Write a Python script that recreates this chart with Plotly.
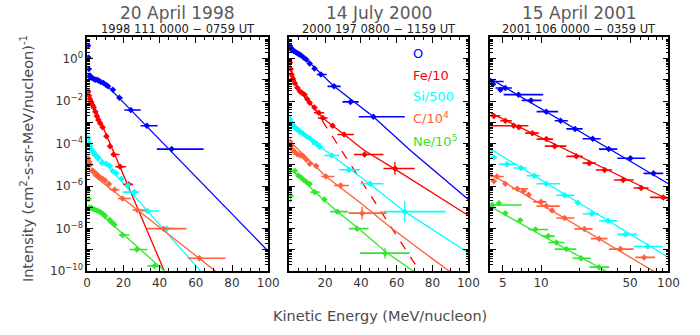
import plotly.graph_objects as go

# ---------------- colours ----------------
C_O, C_FE, C_SI, C_C, C_NE = "#0000ff", "#ff0000", "#00ffff", "#ff5f3a", "#2ee82e"

# ================= Panel 1 : 20 April 1998 =================
p1_O_E = [0.5, 0.7, 0.9, 1.2, 1.5, 2.5, 3.5, 4.5, 5.5, 6.5, 7.5, 9, 10.5, 11.5, 14.2, 17.8, 24.1, 33, 46.7]
p1_O_logI = [0.6, 0.05, -0.5, -0.85, -0.8, -0.9, -0.95, -1.0, -1.0, -1.05, -1.1, -1.15, -1.25, -1.31, -1.47, -1.85, -2.42, -3.16, -4.26]
p1_O_lo = [0.5, 0.7, 0.9, 1.2, 1.5, 2.5, 3.5, 4.5, 5.5, 6.5, 7.5, 9, 10.5, 11.5, 14.2, 16.5, 20.5, 29.5, 38.5]
p1_O_hi = [0.5, 0.7, 0.9, 1.2, 1.5, 2.5, 3.5, 4.5, 5.5, 6.5, 7.5, 9, 10.5, 11.5, 14.2, 19.5, 29.6, 38.9, 64.3]
p1_O_lineE = [9, 100]
p1_O_lineI = [-1.10, -9.06]

p1_Fe_E = [0.6, 1.0, 1.5, 2.2, 3.0, 3.6, 4.5, 5.3, 6.2, 7.2, 8.5, 10.6, 12.6, 14.6, 18.2, 22.9]
p1_Fe_logI = [-1.55, -1.75, -1.9, -2.05, -2.2, -2.3, -2.5, -2.7, -2.89, -3.05, -3.23, -3.66, -4.12, -4.51, -5.09, -5.92]
p1_Fe_lo = [0.6, 1.0, 1.5, 2.2, 3.0, 3.6, 4.5, 5.3, 6.2, 7.2, 8.5, 10.6, 11.5, 13.4, 15.5, 20.0]
p1_Fe_hi = [0.6, 1.0, 1.5, 2.2, 3.0, 3.6, 4.5, 5.3, 6.2, 7.2, 8.5, 10.6, 13.8, 17.9, 21.5, 25.3]
p1_Fe_lineE = [0.5, 44]
p1_Fe_lineI = [-1.57, -10.27]

p1_Si_E = [0.5, 1.0, 1.6, 2.4, 3.4, 4.5, 6, 8.1, 10.6, 12.5, 14.2, 16, 18.9, 22.5, 26, 33.3, 44]
p1_Si_logI = [-3.75, -3.97, -4.1, -4.3, -4.45, -4.55, -4.7, -4.9, -4.95, -5.05, -5.3, -5.4, -5.65, -5.97, -6.28, -7.17, -8.0]
p1_Si_lo = [0.5, 1.0, 1.6, 2.4, 3.4, 4.5, 6, 8.1, 10.6, 12.5, 14.2, 16, 17.5, 21.0, 19.6, 27.0, 39.5]
p1_Si_hi = [0.5, 1.0, 1.6, 2.4, 3.4, 4.5, 6, 8.1, 10.6, 12.5, 14.2, 16, 20.0, 24.0, 28.6, 39.6, 48.0]
p1_Si_lineE = [0.5, 64]
p1_Si_lineI = [-4.0, -10.13]

p1_C_E = [0.5, 0.6, 1.0, 1.6, 2.7, 3.5, 4.5, 5.5, 7, 8.5, 9.9, 12, 15.1, 19.6, 27.7, 42.2, 62]
p1_C_logI = [-4.7, -5.0, -4.85, -5.0, -5.28, -5.3, -5.4, -5.45, -5.58, -5.65, -5.74, -5.9, -6.17, -6.58, -7.12, -8.0, -9.39]
p1_C_lo = [0.5, 0.6, 1.0, 1.6, 2.7, 3.5, 4.5, 5.5, 7, 8.5, 9.9, 12, 12.4, 16.9, 25.0, 33.0, 55.7]
p1_C_hi = [0.5, 0.6, 1.0, 1.6, 2.7, 3.5, 4.5, 5.5, 7, 8.5, 9.9, 12, 17.8, 24.1, 32.3, 54.8, 76.4]
p1_C_lineE = [3, 72]
p1_C_lineI = [-5.47, -10.07]

p1_Ne_E = [0.6, 0.8, 1.2, 2.5, 4, 5.5, 7, 8.5, 9.9, 12.4, 13.5, 15.1, 19.6, 27.4, 37.2]
p1_Ne_logI = [-6.2, -6.6, -7.0, -7.05, -7.1, -7.15, -7.2, -7.3, -7.4, -7.58, -7.7, -7.81, -8.3, -8.98, -9.75]
p1_Ne_lo = [0.6, 0.8, 1.2, 2.5, 4, 5.5, 7, 8.5, 9.9, 12.4, 11.5, 15.1, 17.5, 23.4, 33.3]
p1_Ne_hi = [0.6, 0.8, 1.2, 2.5, 4, 5.5, 7, 8.5, 9.9, 12.4, 15.5, 15.1, 23.2, 33.3, 41.0]
p1_Ne_lineE = [2, 43]
p1_Ne_lineI = [-6.9, -10.01]

# ================= Panel 2 : 14 July 2000 =================
p2_O_E = [0.4, 0.8, 1.5, 2.5, 3.5, 4.5, 5.5, 6.5, 8, 9.5, 11.4, 14.1, 17.7, 25, 34.2, 47]
p2_O_logI = [0.6, 0.5, 0.4, 0.35, 0.3, 0.25, 0.2, 0.15, 0.05, -0.05, -0.24, -0.47, -0.75, -1.31, -2.04, -2.74]
p2_O_lo = [0.4, 0.8, 1.5, 2.5, 3.5, 4.5, 5.5, 6.5, 8, 9.5, 11.4, 14.1, 15.4, 21.4, 29.7, 38.8]
p2_O_hi = [0.4, 0.8, 1.5, 2.5, 3.5, 4.5, 5.5, 6.5, 8, 9.5, 11.4, 14.1, 20.9, 28.7, 38.8, 64.5]
p2_O_dy = [0] * 16
p2_O_lineE = [0.4, 10, 25, 47, 68, 100]
p2_O_lineI = [0.62, -0.08, -1.31, -2.74, -4.35, -6.63]

p2_Fe_E = [0.4, 0.8, 1.3, 2, 3.1, 4.5, 5.9, 7.2, 8.6, 10, 11.4, 14.1, 16.5, 18.7, 24.2, 30.6, 42.1, 59]
p2_Fe_logI = [-0.2, -0.5, -0.77, -0.95, -1.16, -1.38, -1.54, -1.62, -1.7, -1.9, -2.08, -2.31, -2.55, -2.8, -3.16, -3.57, -4.51, -5.17]
p2_Fe_lo = [0.4, 0.8, 1.3, 2, 3.1, 4.5, 5.9, 7.2, 8.6, 10, 11.4, 14.1, 13.8, 15.9, 24.2, 26.9, 36.1, 52.6]
p2_Fe_hi = [0.4, 0.8, 1.3, 2, 3.1, 4.5, 5.9, 7.2, 8.6, 10, 11.4, 14.1, 19.5, 21.4, 24.2, 36.1, 52.6, 70.0]
p2_Fe_dy = [0] * 17 + [0.3]
p2_Fe_lineE = [0.4, 5, 10, 18.7, 30.6, 41.6, 59, 80, 100]
p2_Fe_lineI = [-0.35, -1.45, -1.95, -2.8, -3.57, -4.3, -5.2, -6.3, -7.38]
p2_Fe_dashE = [13, 74]
p2_Fe_dashI = [-2.22, -10.15]

p2_Si_E = [0.4, 1, 2, 3, 4.4, 6, 7.7, 9.5, 11.5, 13.5, 15.4, 17, 23.7, 33.3, 45.2, 64.5]
p2_Si_logI = [-2.85, -3.0, -3.15, -3.25, -3.34, -3.45, -3.54, -3.65, -3.75, -3.9, -4.02, -4.15, -4.56, -5.23, -5.89, -7.2]
p2_Si_lo = [0.4, 1, 2, 3, 4.4, 6, 7.7, 9.5, 11.5, 13.5, 12.8, 17, 19.6, 27.8, 39.7, 52.6]
p2_Si_hi = [0.4, 1, 2, 3, 4.4, 6, 7.7, 9.5, 11.5, 13.5, 17.8, 17, 27.8, 39.7, 52.6, 87.4]
p2_Si_dy = [0] * 15 + [0.5]
p2_Si_lineE = [0.4, 15, 20.5, 45, 64.5, 100]
p2_Si_lineI = [-2.9, -4.0, -4.35, -5.9, -7.2, -9.13]

p2_C_E = [0.4, 1, 2, 3, 4.5, 6, 7.7, 9.5, 11.4, 15, 20.5, 28.7, 40.7]
p2_C_logI = [-3.9, -4.1, -4.3, -4.4, -4.5, -4.55, -4.6, -4.75, -4.95, -5.05, -5.55, -5.97, -7.27]
p2_C_lo = [0.4, 1, 2, 3, 4.5, 6, 7.7, 9.5, 11.4, 15, 17.8, 25.1, 33.3]
p2_C_hi = [0.4, 1, 2, 3, 4.5, 6, 7.7, 9.5, 11.4, 15, 25.1, 33.3, 54.4]
p2_C_dy = [0] * 12 + [0.3]
p2_C_lineE = [0.4, 20.5, 40, 56.6, 80, 92]
p2_C_lineI = [-3.9, -5.55, -6.81, -7.95, -9.42, -10.16]

p2_Ne_E = [0.4, 0.8, 3.1, 5, 6.5, 8, 9.5, 11.4, 14.1, 19.6, 26.9, 37.9, 53.5]
p2_Ne_logI = [-5.28, -6.45, -5.28, -5.5, -5.6, -5.7, -5.8, -5.9, -6.28, -6.63, -7.2, -8.0, -9.15]
p2_Ne_lo = [0.4, 0.8, 3.1, 5, 6.5, 8, 9.5, 11.4, 11.8, 19.6, 22.9, 33.3, 39.4]
p2_Ne_hi = [0.4, 0.8, 3.1, 5, 6.5, 8, 9.5, 11.4, 16.8, 19.6, 33.0, 44.3, 67.2]
p2_Ne_dy = [0, 0.3] + [0] * 10 + [0.25]
p2_Ne_lineE = [0.4, 5, 14, 27, 38, 54, 71]
p2_Ne_lineI = [-5.2, -5.5, -6.25, -7.2, -7.95, -9.1, -10.1]

# ================= Panel 3 : 15 April 2001 =================
p3_O_E = [4.0, 4.2, 4.8, 5.24, 6.66, 8.34, 11.0, 14.25, 18.5, 25.4, 34.0, 50.3, 76.2]
p3_O_logI = [-1.08, -1.21, -1.47, -1.39, -1.70, -1.97, -2.50, -2.93, -3.31, -3.77, -4.26, -4.69, -5.40]
p3_O_lo = [3.94, 4.2, 4.8, 4.39, 5.09, 7.06, 9.23, 12.8, 15.8, 21.2, 28.5, 39.7, 63.7]
p3_O_hi = [5.09, 4.2, 4.8, 5.90, 10.4, 10.1, 13.6, 16.2, 21.2, 29.4, 39.7, 65.7, 91.0]
p3_O_lineE = [3.94, 100]
p3_O_lineI = [-0.93, -5.89]

p3_Fe_E = [4.26, 5.24, 6.1, 6.7, 8.55, 11.0, 12.8, 18.9, 23.9, 31.6, 44.1, 61.2, 91]
p3_Fe_logI = [-2.70, -2.93, -3.16, -3.23, -3.51, -3.79, -4.12, -4.60, -4.92, -5.24, -5.71, -6.09, -6.53]
p3_Fe_lo = [4.01, 4.78, 4.01, 6.7, 7.5, 9.23, 10.7, 15.8, 21.2, 26.9, 37.3, 53.3, 71.8]
p3_Fe_hi = [4.78, 5.90, 7.95, 6.7, 9.6, 12.4, 15.8, 21.2, 26.9, 36.2, 53.3, 69.8, 96.8]
p3_Fe_lineE = [3.94, 100]
p3_Fe_lineI = [-2.54, -6.63]

p3_Si_E = [4.0, 4.26, 5.4, 6.96, 8.86, 11.0, 15.3, 19.4, 25.0, 33.5, 46.1, 68.6]
p3_Si_logI = [-4.4, -4.66, -4.97, -5.15, -5.51, -5.89, -6.43, -6.78, -7.30, -7.63, -8.27, -8.84]
p3_Si_lo = [4.0, 3.94, 4.66, 6.09, 7.72, 9.23, 13.2, 19.4, 21.2, 28.5, 39.7, 53.3]
p3_Si_hi = [4.0, 4.52, 6.27, 7.72, 9.79, 14.0, 18.3, 19.4, 28.5, 39.7, 56.6, 90.0]
p3_Si_lineE = [3.94, 100]
p3_Si_lineI = [-4.23, -9.35]

p3_C_E = [4.5, 4.26, 5.24, 6.5, 7.3, 8.0, 10.0, 11.0, 12.2, 15.3, 21.9, 28.5, 42.0, 64.4]
p3_C_logI = [-5.55, -5.77, -5.89, -6.12, -6.23, -6.40, -6.74, -6.94, -7.15, -7.50, -8.01, -8.47, -8.96, -9.35]
p3_C_lo = [3.94, 4.26, 5.24, 5.90, 7.3, 8.0, 8.7, 9.23, 12.2, 13.2, 18.3, 24.6, 34.2, 55.0]
p3_C_hi = [5.09, 4.26, 5.24, 7.95, 7.3, 8.0, 11.0, 14.0, 12.2, 18.3, 25.4, 33.2, 53.3, 78.5]
p3_C_lineE = [3.94, 88]
p3_C_lineI = [-5.40, -10.22]

p3_Ne_E = [4.14, 4.67, 5.24, 6.85, 9.05, 11.4, 13.2, 15.8, 20.6, 28.5]
p3_Ne_logI = [-6.89, -6.81, -7.27, -7.61, -8.04, -8.35, -8.65, -8.96, -9.39, -9.81]
p3_Ne_lo = [3.94, 4.67, 5.24, 6.85, 7.95, 10.1, 11.4, 12.8, 17.7, 24.0]
p3_Ne_hi = [7.06, 4.67, 5.24, 6.85, 11.4, 12.8, 15.3, 18.9, 24.6, 34.2]
p3_Ne_lineE = [3.94, 37]
p3_Ne_lineI = [-6.94, -10.2]

# ---------------- texts ----------------
titles = ["20 April 1998", "14 July 2000", "15 April 2001"]
subtitles = ["1998 111 0000 \u2212 0759 UT", "2000 197 0800 \u2212 1159 UT", "2001 106 0000 \u2212 0359 UT"]
legend_labels = ["O", "Fe/10", "Si/500", "C/10<sup>4</sup>", "Ne/10<sup>5</sup>"]
legend_colors = [C_O, C_FE, C_SI, C_C, C_NE]
ylabel = "Intensity (cm<sup>2</sup>-s-sr-MeV/nucleon)<sup>-1</sup>"
xlabel = "Kinetic Energy (MeV/nucleon)"

fig = go.Figure()


def pts(E, logI, lo, hi, color, ax, dy=None):
    I = [10 ** v for v in logI]
    ep = [h - e for e, h in zip(E, hi)]
    em = [e - l for e, l in zip(E, lo)]
    kw = {}
    if dy is not None:
        kw["error_y"] = dict(type="data", symmetric=False,
                             array=[i * (10 ** d - 1) for i, d in zip(I, dy)],
                             arrayminus=[i * (1 - 10 ** -d) for i, d in zip(I, dy)],
                             color=color, thickness=1.3, width=0)
    fig.add_trace(go.Scatter(
        x=E, y=I, mode="markers", xaxis="x" + ax, yaxis="y" + ax,
        marker=dict(symbol="diamond", size=5, color=color, line=dict(width=0)),
        error_x=dict(type="data", symmetric=False, array=ep, arrayminus=em,
                     color=color, thickness=1.6, width=0),
        showlegend=False, hoverinfo="skip", **kw))


def line(E, logI, color, ax, dash="solid"):
    fig.add_trace(go.Scatter(
        x=E, y=[10 ** v for v in logI], mode="lines", xaxis="x" + ax, yaxis="y" + ax,
        line=dict(color=color, width=1.3, dash=dash), showlegend=False,
        hoverinfo="skip", cliponaxis=True))


# panel 1
line(p1_O_lineE, p1_O_lineI, C_O, "")
line(p1_Fe_lineE, p1_Fe_lineI, C_FE, "")
line(p1_Si_lineE, p1_Si_lineI, C_SI, "")
line(p1_C_lineE, p1_C_lineI, C_C, "")
line(p1_Ne_lineE, p1_Ne_lineI, C_NE, "")
pts(p1_O_E, p1_O_logI, p1_O_lo, p1_O_hi, C_O, "")
pts(p1_Fe_E, p1_Fe_logI, p1_Fe_lo, p1_Fe_hi, C_FE, "")
pts(p1_Si_E, p1_Si_logI, p1_Si_lo, p1_Si_hi, C_SI, "")
pts(p1_C_E, p1_C_logI, p1_C_lo, p1_C_hi, C_C, "")
pts(p1_Ne_E, p1_Ne_logI, p1_Ne_lo, p1_Ne_hi, C_NE, "")

# panel 2
line(p2_O_lineE, p2_O_lineI, C_O, "2")
line(p2_Fe_lineE, p2_Fe_lineI, C_FE, "2")
line(p2_Fe_dashE, p2_Fe_dashI, C_FE, "2", dash="dash")
line(p2_Si_lineE, p2_Si_lineI, C_SI, "2")
line(p2_C_lineE, p2_C_lineI, C_C, "2")
line(p2_Ne_lineE, p2_Ne_lineI, C_NE, "2")
pts(p2_O_E, p2_O_logI, p2_O_lo, p2_O_hi, C_O, "2", p2_O_dy)
pts(p2_Fe_E, p2_Fe_logI, p2_Fe_lo, p2_Fe_hi, C_FE, "2", p2_Fe_dy)
pts(p2_Si_E, p2_Si_logI, p2_Si_lo, p2_Si_hi, C_SI, "2", p2_Si_dy)
pts(p2_C_E, p2_C_logI, p2_C_lo, p2_C_hi, C_C, "2", p2_C_dy)
pts(p2_Ne_E, p2_Ne_logI, p2_Ne_lo, p2_Ne_hi, C_NE, "2", p2_Ne_dy)

# panel 3
line(p3_O_lineE, p3_O_lineI, C_O, "3")
line(p3_Fe_lineE, p3_Fe_lineI, C_FE, "3")
line(p3_Si_lineE, p3_Si_lineI, C_SI, "3")
line(p3_C_lineE, p3_C_lineI, C_C, "3")
line(p3_Ne_lineE, p3_Ne_lineI, C_NE, "3")
pts(p3_O_E, p3_O_logI, p3_O_lo, p3_O_hi, C_O, "3")
pts(p3_Fe_E, p3_Fe_logI, p3_Fe_lo, p3_Fe_hi, C_FE, "3")
pts(p3_Si_E, p3_Si_logI, p3_Si_lo, p3_Si_hi, C_SI, "3")
pts(p3_C_E, p3_C_logI, p3_C_lo, p3_C_hi, C_C, "3")
pts(p3_Ne_E, p3_Ne_logI, p3_Ne_lo, p3_Ne_hi, C_NE, "3")

# ---------------- axes ----------------
W, H = 700, 335
FONT = "DejaVu Sans"
TXT = "#333333"
ydom = [1 - 277 / H, 1 - 38 / H]
xdoms = [[85 / W, 270 / W], [291.5 / W, 474.5 / W], [497 / W, 679 / W]]

ytv = [10.0 ** k for k in range(-10, 2)]
ytt = [("10<sup>%s</sup>" % (str(k).replace("-", "\u2212")) if k % 2 == 0 else "") for k in range(-10, 2)]
yminor = [m * 10.0 ** k for k in range(-10, 1) for m in range(2, 10)]

common = dict(ticks="inside", ticklen=6, tickwidth=1, tickcolor="black",
              showline=True, linecolor="black", linewidth=1.5, mirror="allticks",
              showgrid=False, zeroline=False,
              tickfont=dict(family=FONT, size=12, color=TXT))

layout_axes = {}
for i, ax in enumerate(["", "2", "3"]):
    yk = "yaxis" + ax
    layout_axes[yk] = dict(common, type="log", range=[-10, 1], domain=ydom,
                           anchor="x" + ax, tickmode="array", tickvals=ytv,
                           ticktext=ytt if i == 0 else [""] * len(ytv),
                           minor=dict(tickmode="array", tickvals=yminor, ticks="inside",
                                      ticklen=3, tickcolor="black", showgrid=False))
layout_axes["xaxis"] = dict(common, range=[0, 100], domain=xdoms[0], anchor="y",
                            tickmode="array", tickvals=[0, 20, 40, 60, 80, 100],
                            ticktext=["0", "20", "40", "60", "80", "100"],
                            minor=dict(dtick=5, ticks="inside", ticklen=3, tickcolor="black", showgrid=False))
layout_axes["xaxis2"] = dict(common, range=[0, 100], domain=xdoms[1], anchor="y2",
                             tickmode="array", tickvals=[0, 20, 40, 60, 80, 100],
                             ticktext=["", "20", "40", "60", "80", "100"],
                             minor=dict(dtick=5, ticks="inside", ticklen=3, tickcolor="black", showgrid=False))
layout_axes["xaxis3"] = dict(common, type="log", range=[0.602, 2.0], domain=xdoms[2], anchor="y3",
                             tickmode="array", tickvals=[5, 10, 50, 100],
                             ticktext=["5", "10", "50", "100"],
                             minor=dict(tickmode="array", tickvals=[4, 6, 7, 8, 9, 20, 30, 40, 60, 70, 80, 90],
                                        ticks="inside", ticklen=3, tickcolor="black", showgrid=False))

ann = []
centers = [(xdoms[k][0] + xdoms[k][1]) / 2 for k in range(3)]
for k in range(3):
    ann.append(dict(text=titles[k], x=centers[k], y=1 - 13 / H, xref="paper", yref="paper",
                    showarrow=False, font=dict(family=FONT, size=17, color="#5a5a5a"),
                    xanchor="center", yanchor="middle"))
    ann.append(dict(text=subtitles[k], x=centers[k], y=1 - 30 / H, xref="paper", yref="paper",
                    showarrow=False, font=dict(family=FONT, size=11.5, color="#222222"),
                    xanchor="center", yanchor="middle"))
leg_y = [55, 77, 99, 121, 144]
for lab, col, yy in zip(legend_labels, legend_colors, leg_y):
    ann.append(dict(text=lab, x=416 / W, y=1 - yy / H, xref="paper", yref="paper",
                    showarrow=False, font=dict(family=FONT, size=13, color=col),
                    xanchor="left", yanchor="middle"))
ann.append(dict(text=ylabel, x=23 / W, y=1 - 162 / H, xref="paper", yref="paper", textangle=-90,
                showarrow=False, font=dict(family=FONT, size=14.5, color="#4a4a4a"),
                xanchor="center", yanchor="middle"))
ann.append(dict(text=xlabel, x=384 / W, y=1 - 323 / H, xref="paper", yref="paper",
                showarrow=False, font=dict(family=FONT, size=14.5, color="#4a4a4a"),
                xanchor="center", yanchor="middle"))

fig.update_layout(width=W, height=H, margin=dict(l=0, r=0, t=0, b=0),
                  paper_bgcolor="white", plot_bgcolor="white",
                  annotations=ann, **layout_axes)

fig.write_html("out.html")
